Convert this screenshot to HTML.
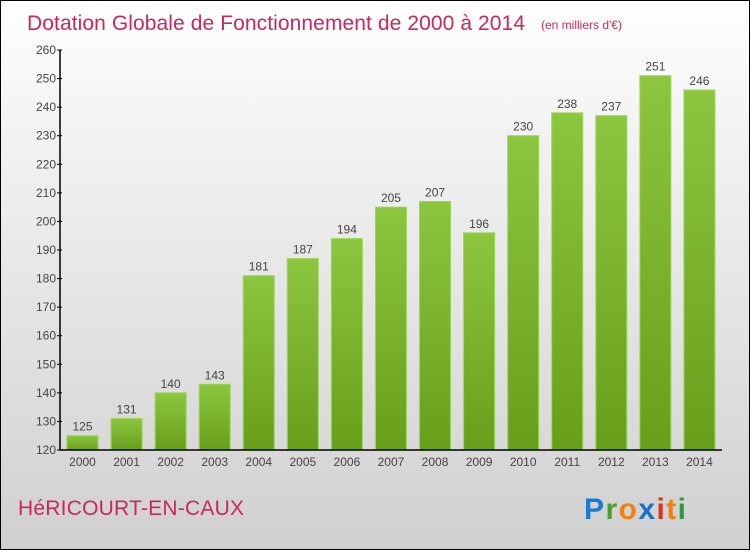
<!DOCTYPE html>
<html><head><meta charset="utf-8"><style>
html,body{margin:0;padding:0}
body{width:750px;height:550px;overflow:hidden;font-family:"Liberation Sans",sans-serif}
#wrap{position:absolute;left:0;top:0;width:748px;height:548px;border:1px solid #000;background:linear-gradient(#fff,#f2f2f2 25%,#d0d0d0)}
</style></head><body>
<div id="wrap">
<svg id="chart" width="748" height="548">
<defs>
<linearGradient id="bg" x1="0" y1="0" x2="0" y2="1">
<stop offset="0" stop-color="#8cc63f"/><stop offset="1" stop-color="#689f1a"/></linearGradient>
</defs>
<text x="26" y="29" font-size="21" fill="#c8285a" textLength="498">Dotation Globale de Fonctionnement de 2000 à 2014</text>
<text x="540" y="28" font-size="12" fill="#c8285a">(en milliers d'€)</text>
<text x="17" y="514" font-size="21" fill="#c8285a" textLength="226">HéRICOURT-EN-CAUX</text>
<g font-size="30" font-weight="bold" font-family="'Liberation Sans',sans-serif">
<text x="583" y="518" textLength="102"><tspan fill="#1a7ad4">P</tspan><tspan fill="#4aa02c">r</tspan><tspan fill="#f08010">o</tspan><tspan fill="#1a6fc9">x</tspan><tspan fill="#e03020">i</tspan><tspan fill="#f08010">t</tspan><tspan fill="#2a9a40">i</tspan></text>
</g>
<g id="plot"></g>
</svg>
</div>
<script>
const years=["2000","2001","2002","2003","2004","2005","2006","2007","2008","2009","2010","2011","2012","2013","2014"];
const values=[125,131,140,143,181,187,194,205,207,196,230,238,237,251,246];
const ticks=[120,130,140,150,160,170,180,190,200,210,220,230,240,250,260];
const ns="http://www.w3.org/2000/svg";
const g=document.getElementById('plot');
const X0=59,X1=720,Y0=449,Y1=49,VMIN=120,VMAX=260;
const y=v=>Y0-(v-VMIN)/(VMAX-VMIN)*(Y0-Y1);
const slot=(X1-X0)/years.length;
const x=i=>X0+i*slot;
function mk(t,a){const e=document.createElementNS(ns,t);for(const k in a)e.setAttribute(k,a[k]);g.appendChild(e);return e;}
ticks.forEach(t=>{
 const l=mk('line',{x1:X0-3,x2:X0+2,y1:y(t),y2:y(t),stroke:'#000'});
 
 
 const tx=mk('text',{x:X0-4,y:y(t)+4,'text-anchor':'end','font-size':12,fill:'#444'});
 tx.textContent=t;
 
 
});
years.forEach((yr,i)=>{
 const v=values[i];
 const r=mk('rect',{x:x(i)+7,y:y(v),width:31,height:Y0-y(v),fill:'url(#bg)',stroke:'#9ed45a','stroke-width':1});
 
 
 const vl=mk('text',{x:x(i)+22.5,y:y(v)-5,'text-anchor':'middle','font-size':12,fill:'#444'});
 vl.textContent=v;
 
 
 const xl=mk('text',{x:x(i)+22.5,y:Y0+16,'text-anchor':'middle','font-size':12,fill:'#444'});
 xl.textContent=yr;
 
 
});
const ya=mk('line',{x1:X0,x2:X0,y1:Y1,y2:Y0,stroke:'#000','stroke-width':1.5});


const xa=mk('line',{x1:X0,x2:X1+1,y1:Y0,y2:Y0,stroke:'#000','stroke-width':1.5});


</script>
</body></html>
